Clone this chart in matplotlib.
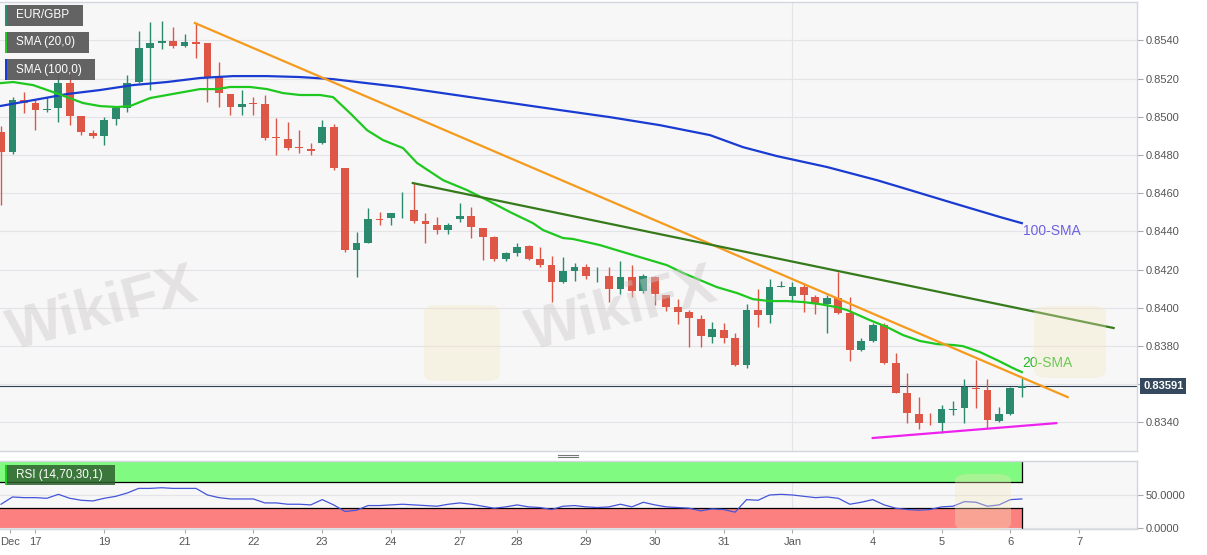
import numpy as np
import matplotlib
matplotlib.use('Agg')
import matplotlib.pyplot as plt
from matplotlib.patches import Rectangle, FancyBboxPatch
from matplotlib.lines import Line2D

plt.rcParams['font.family'] = ['Liberation Sans', 'DejaVu Sans']

# EUR/GBP 4h candles, oldest first
opens = [0.84920, 0.84815, 0.85087, 0.85072, 0.85035, 0.85046, 0.85176, 0.85004, 0.84915, 0.84899,
         0.84988, 0.85046, 0.85182, 0.85360, 0.85386, 0.85396, 0.85370, 0.85391, 0.85386, 0.85208,
         0.85119, 0.85051, 0.85072, 0.85066, 0.84894, 0.84883, 0.84841, 0.84831, 0.84862, 0.84946,
         0.84731, 0.84302, 0.84339, 0.84466, 0.84470, 0.84499, 0.84511, 0.84454, 0.84433, 0.84407,
         0.84464, 0.84480, 0.84417, 0.84370, 0.84255, 0.84286, 0.84323, 0.84255, 0.84223, 0.84134,
         0.84192, 0.84213, 0.84169, 0.84166, 0.84098, 0.84160, 0.84087, 0.84160, 0.84066, 0.84003,
         0.83977, 0.83941, 0.83846, 0.83883, 0.83841, 0.83700, 0.83988, 0.83962, 0.84111, 0.84061,
         0.84108, 0.84056, 0.84019, 0.84051, 0.83972, 0.83778, 0.83826, 0.83909, 0.83710, 0.83553,
         0.83443, 0.83398, 0.83396, 0.83467, 0.83475, 0.83580, 0.83569, 0.83407, 0.83443, 0.83580]
highs = [0.84950, 0.85103, 0.85129, 0.85087, 0.85103, 0.85234, 0.85234, 0.85004, 0.84930, 0.84998,
         0.85051, 0.85218, 0.85449, 0.85496, 0.85501, 0.85470, 0.85433, 0.85491, 0.85386, 0.85286,
         0.85119, 0.85140, 0.85103, 0.85114, 0.84993, 0.84972, 0.84930, 0.84862, 0.84983, 0.84962,
         0.84731, 0.84396, 0.84522, 0.84501, 0.84496, 0.84606, 0.84653, 0.84496, 0.84475, 0.84443,
         0.84548, 0.84527, 0.84417, 0.84375, 0.84292, 0.84339, 0.84328, 0.84318, 0.84271, 0.84265,
         0.84234, 0.84229, 0.84213, 0.84213, 0.84244, 0.84223, 0.84176, 0.84166, 0.84066, 0.84045,
         0.83988, 0.83962, 0.83925, 0.83920, 0.83867, 0.84019, 0.84098, 0.84150, 0.84140, 0.84134,
         0.84129, 0.84066, 0.84066, 0.84187, 0.84056, 0.83841, 0.83920, 0.83920, 0.83763, 0.83658,
         0.83532, 0.83448, 0.83490, 0.83511, 0.83627, 0.83726, 0.83627, 0.83480, 0.83585, 0.83632]
lows = [0.84538, 0.84805, 0.85019, 0.84930, 0.85025, 0.84972, 0.84956, 0.84904, 0.84888, 0.84852,
        0.84956, 0.85025, 0.85176, 0.85140, 0.85354, 0.85360, 0.85365, 0.85307, 0.85077, 0.85051,
        0.85009, 0.85009, 0.85009, 0.84878, 0.84799, 0.84826, 0.84810, 0.84799, 0.84857, 0.84721,
        0.84292, 0.84160, 0.84339, 0.84433, 0.84433, 0.84470, 0.84443, 0.84339, 0.84386, 0.84386,
        0.84449, 0.84365, 0.84250, 0.84244, 0.84244, 0.84271, 0.84250, 0.84213, 0.84030, 0.84129,
        0.84140, 0.84150, 0.84134, 0.84030, 0.84072, 0.84056, 0.84077, 0.84014, 0.83983, 0.83915,
        0.83794, 0.83794, 0.83815, 0.83815, 0.83695, 0.83684, 0.83899, 0.83920, 0.84108, 0.84030,
        0.83977, 0.83967, 0.83867, 0.83967, 0.83721, 0.83773, 0.83820, 0.83705, 0.83553, 0.83396,
        0.83365, 0.83386, 0.83344, 0.83438, 0.83396, 0.83475, 0.83370, 0.83401, 0.83438, 0.83532]
closes = [0.84815, 0.85087, 0.85072, 0.85035, 0.85040, 0.85176, 0.85004, 0.84920, 0.84899, 0.84983,
          0.85046, 0.85176, 0.85360, 0.85386, 0.85396, 0.85370, 0.85391, 0.85381, 0.85208, 0.85124,
          0.85051, 0.85066, 0.85066, 0.84888, 0.84888, 0.84836, 0.84836, 0.84820, 0.84946, 0.84731,
          0.84302, 0.84339, 0.84464, 0.84462, 0.84496, 0.84503, 0.84454, 0.84438, 0.84407, 0.84433,
          0.84480, 0.84423, 0.84370, 0.84255, 0.84286, 0.84318, 0.84255, 0.84223, 0.84134, 0.84192,
          0.84213, 0.84166, 0.84173, 0.84098, 0.84160, 0.84087, 0.84166, 0.84072, 0.84003, 0.83977,
          0.83946, 0.83852, 0.83888, 0.83841, 0.83700, 0.83988, 0.83962, 0.84108, 0.84115, 0.84108,
          0.84066, 0.84024, 0.84051, 0.83972, 0.83778, 0.83826, 0.83909, 0.83710, 0.83553, 0.83448,
          0.83396, 0.83394, 0.83469, 0.83471, 0.83585, 0.83574, 0.83412, 0.83443, 0.83580, 0.83591]

rsi = [36, 47, 46, 46, 45, 51, 45, 42, 41, 45,
       48, 53, 60, 60, 61, 60, 60, 60, 50, 46,
       44, 44, 44, 38, 38, 36, 36, 35, 43, 35,
       25, 27, 34, 34, 35, 36, 35, 34, 33, 36,
       38, 36, 33, 30, 32, 35, 32, 31, 28, 33,
       34, 32, 31, 32, 36, 32, 39, 35, 32, 31,
       30, 26, 29, 28, 24, 43, 42, 50, 51, 50,
       48, 46, 47, 45, 36, 39, 43, 35, 30, 28,
       27, 28, 32, 33, 40, 39, 33, 35, 43, 44]

# moving averages (bar index, price)
sma20_x = [-0.1, 1.05, 2.79, 4.27, 5.75, 7.15, 8.63, 10.11, 11.25, 12.12, 12.99, 14.47, 15.87,
           17.35, 18.83, 19.97, 21.71, 23.19, 24.59, 26.07, 27.81, 28.95, 30.43, 31.91, 33.3,
           35.05, 36.27, 38.54, 40.63, 42.37, 44.38, 46.38, 47.25, 49.0, 49.87, 52.22, 55.1,
           58.06, 59.46, 62.42, 64.17, 65.56, 67.04, 68.53, 69.92, 71.4, 72.89, 73.76, 75.76,
           77.24, 78.64, 80.12, 81.6, 83.0, 83.87, 85.35, 86.84, 88.23, 89.0]
sma20_y = [0.85176, 0.85182, 0.85166, 0.85135, 0.85103, 0.85072, 0.85056, 0.85051, 0.85056, 0.85077,
           0.85098, 0.85114, 0.85129, 0.85145, 0.85145, 0.85156, 0.85156, 0.85145, 0.85124, 0.85114,
           0.85114, 0.85103, 0.85019, 0.84930, 0.84878, 0.84836, 0.84758, 0.84668, 0.84616, 0.84564,
           0.84501, 0.84443, 0.84407, 0.84365, 0.84360, 0.84328, 0.84276, 0.84223, 0.84182, 0.84108,
           0.84077, 0.84045, 0.84035, 0.84035, 0.84030, 0.84019, 0.84003, 0.83988, 0.83935, 0.83899,
           0.83857, 0.83826, 0.83810, 0.83805, 0.83799, 0.83768, 0.83726, 0.83684, 0.83663]
sma100_x = [-0.1, 2.79, 5.75, 8.63, 11.51, 14.47, 17.35, 20.23, 23.19, 26.07, 28.95, 31.91, 34.79,
            48.74, 53.1, 57.45, 61.81, 64.69, 67.65, 72.01, 76.37, 78.38, 82.74, 87.1, 89.0]
sma100_y = [0.85056, 0.85087, 0.85119, 0.85140, 0.85166, 0.85182, 0.85203, 0.85213, 0.85213, 0.85208,
            0.85197, 0.85176, 0.85156, 0.85035, 0.84998, 0.84956, 0.84904, 0.84841, 0.84794, 0.84737,
            0.84668, 0.84632, 0.84553, 0.84475, 0.84443]

# hand drawn trend lines
orange_x = [16.9, 93.0]
orange_y = [0.85491, 0.83532]
dkgreen_x = [35.9, 97.0]
dkgreen_y = [0.84653, 0.83894]
magenta_x = [76.0, 92.0]
magenta_y = [0.83318, 0.83396]

last_price = 0.83591

date_pos = [0.75, 3, 9, 16, 22, 28, 34, 40, 45, 51, 57, 63, 69, 76, 82, 88, 94]
date_lab = ['Dec', '17', '19', '21', '22', '23', '24', '27', '28', '29', '30', '31', 'Jan',
            '4', '5', '6', '7']
price_ticks = [0.8340, 0.8360, 0.8380, 0.8400, 0.8420, 0.8440, 0.8460, 0.8480, 0.8500,
               0.8520, 0.8540]

W, H = 1207, 555
UP = '#2b8a6e'
DN = '#dd5646'
BG = '#f7f7f8'
GRID = '#e4e4e6'
FRAME = '#d3d6df'
TXT = '#555555'


def px_rect(x0, y0, x1, y1, **kw):
    return Rectangle((x0 / W, 1 - y1 / H), (x1 - x0) / W, (y1 - y0) / H,
                     transform=fig.transFigure, **kw)


def label_box(x0, y0, x1, y1, text, strip, face, alpha=0.95):
    fig.patches.append(px_rect(x0, y0, x1, y1, facecolor=face, edgecolor='none', alpha=alpha))
    fig.patches.append(px_rect(x0, y0, x0 + 2, y1, facecolor=strip, edgecolor='none'))
    fig.text((x0 + 11) / W, 1 - (y0 + y1) / 2 / H, text, color='white', fontsize=8.5,
             va='center', ha='left')


def logo(x0, y0, size):
    # pale rounded square of the watermark logo, pixel coords
    fig.patches.append(FancyBboxPatch((x0 / W, 1 - (y0 + size) / H), size / W, size / H,
                                      boxstyle='round,pad=0,rounding_size=0.012',
                                      transform=fig.transFigure, facecolor='#f4e6bc',
                                      edgecolor='none', alpha=0.35, zorder=0))


fig = plt.figure(figsize=(W / 100, H / 100), dpi=100, facecolor='white')
ax = fig.add_axes([0, 1 - 451 / H, 1137 / W, 449 / H])
ax2 = fig.add_axes([0, 1 - 529 / H, 1137 / W, 68 / H], sharex=ax)

for a in (ax, ax2):
    a.set_facecolor(BG)
    for s in a.spines.values():
        s.set_color(FRAME)
        s.set_linewidth(1)
    a.spines['left'].set_visible(False)
    a.yaxis.tick_right()
    a.tick_params(axis='y', length=4, color='#aaaaaa', labelcolor=TXT, labelsize=8, pad=2)
    a.axvline(69, color=GRID, lw=0.8, zorder=0)

# watermarks
logo(424, 305, 76)
logo(1034, 306, 72)
logo(955, 474, 56)
for wx, wy in [(0.085, 0.44), (0.515, 0.44)]:
    fig.text(wx, wy, 'WikiFX', fontsize=42, fontweight='bold', color='#cdc9c9', alpha=0.45,
             rotation=15, ha='center', va='center', zorder=0)

# candles
idx = np.arange(len(opens))
o = np.array(opens)
c = np.array(closes)
col = [UP if cc >= oo else DN for oo, cc in zip(o, c)]
ax.vlines(idx, lows, highs, colors=col, lw=1, zorder=3)
body = np.maximum(np.abs(c - o), 0.000045)
ax.bar(idx, body, bottom=np.minimum(o, c), width=0.68, color=col, zorder=4, linewidth=0)

ax.plot(sma100_x, sma100_y, color='#1a3bd1', lw=1.6, zorder=5)
ax.plot(sma20_x, sma20_y, color='#1fc81f', lw=1.6, zorder=5)
ax.plot(orange_x, orange_y, color='#f59a1c', lw=1.6, zorder=5)
ax.plot(dkgreen_x, dkgreen_y, color='#367a1c', lw=1.6, zorder=5)
ax.plot(magenta_x, magenta_y, color='#ee22ee', lw=1.6, zorder=5)

ax.axhline(last_price, color='#2c3e50', lw=0.8, zorder=2)
ax.text(1.0053, last_price, '%.5f' % last_price, transform=ax.get_yaxis_transform(),
        color='white', fontsize=8, fontweight='bold', va='center', ha='left',
        bbox=dict(boxstyle='square,pad=0.25', facecolor='#34495e', edgecolor='none'))

ax.text(89.0, 0.83711, '20-SMA', color='#22bb22', fontsize=10, va='center', ha='left', zorder=6)
ax.text(89.1, 0.84402, '100-SMA', color='#6a62e0', fontsize=10, va='center', ha='left', zorder=6)

ax.set_xlim(-0.09, 99.04)
ax.set_ylim(0.83250, 0.85601)
ax.set_yticks(price_ticks)
# the 0.8360 label sits under the price box
ax.set_yticklabels(['' if abs(p - 0.8360) < 1e-6 else '%.4f' % p for p in price_ticks])
ax.grid(axis='y', color=GRID, lw=0.8, zorder=0)
ax.set_axisbelow(True)
ax.tick_params(axis='x', bottom=False, labelbottom=False)

# RSI panel
end = idx[-1]
ax2.fill_between([-0.5, end], 70, 100, color='#80fa80', zorder=1, linewidth=0)
ax2.fill_between([-0.5, end], 0, 30, color='#fc8080', zorder=1, linewidth=0)
ax2.plot([-0.5, end], [70, 70], color='black', lw=0.9, zorder=2)
ax2.plot([-0.5, end], [30, 30], color='black', lw=0.9, zorder=2)
ax2.plot([end, end], [70, 100], color='black', lw=0.9, zorder=2)
ax2.plot([end, end], [0, 30], color='black', lw=0.9, zorder=2)
ax2.plot(idx, rsi, color='#4455d8', lw=0.9, zorder=3)
ax2.set_ylim(-1.5, 101.5)
ax2.set_yticks([0, 50])
ax2.set_yticklabels(['0.0000', '50.0000'])
ax2.grid(axis='y', color=GRID, lw=0.8, zorder=0)
ax2.set_xticks(date_pos)
ax2.set_xticklabels(date_lab)
ax2.tick_params(axis='x', length=3, color='#aaaaaa', labelcolor=TXT, labelsize=8, pad=3)

# legend boxes
label_box(5, 5, 83, 26, 'EUR/GBP', '#2e8b72', '#5b5b5b')
label_box(5, 32, 89, 53, 'SMA (20,0)', '#22cc22', '#5b5b5b')
label_box(5, 59, 95, 80, 'SMA (100,0)', '#1a3bd1', '#5b5b5b')
label_box(5, 465, 115, 485, 'RSI (14,70,30,1)', '#22cc22', '#2f5f2f', alpha=0.85)

# panel resize handle
for hy in (454.5, 456.5):
    fig.add_artist(Line2D([558 / W, 578 / W], [1 - hy / H, 1 - hy / H], color='#777777', lw=0.8))

fig.savefig('out.png', dpi=100, facecolor='white')
